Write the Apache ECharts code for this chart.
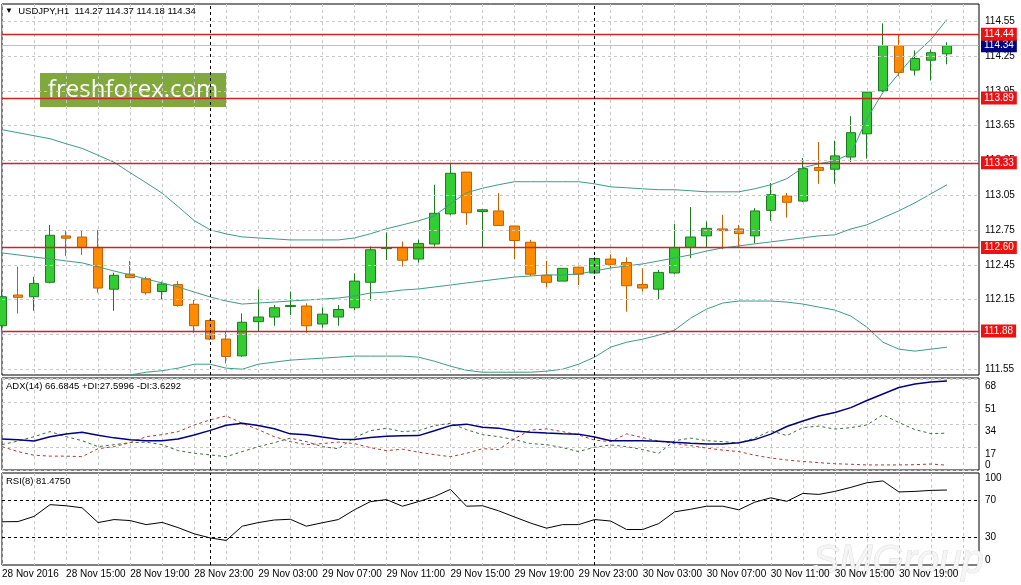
<!DOCTYPE html>
<html>
<head>
<meta charset="utf-8">
<title>USDJPY H1</title>
<script src="https://cdn.jsdelivr.net/npm/echarts@6/dist/echarts.min.js"></script>
<style>
html, body { margin: 0; padding: 0; background: #fff; }
#chart { width: 1021px; height: 585px; }
</style>
</head>
<body>
<div id="chart"></div>
<script>
// 每根K线 (28 Nov 11:00 起, 每小时一根)
var opens  = [111.925,112.19,112.175,112.30,112.70,112.69,112.60,112.24,112.37,112.33,
              112.22,112.28,112.11,111.97,111.81,111.665,111.96,112.00,112.09,112.095,
              111.94,112.00,112.08,112.30,112.59,112.60,112.50,112.63,112.89,113.25,
              112.91,112.915,112.785,112.645,112.36,112.31,112.43,112.38,112.50,112.47,
              112.28,112.24,112.38,112.60,112.70,112.76,112.76,112.70,112.92,113.045,
              113.00,113.29,113.275,113.38,113.58,113.95,114.34,114.13,114.215,114.27];
var highs  = [112.23,112.435,112.348,112.795,112.746,112.752,112.752,112.383,112.484,112.348,
              112.305,112.311,112.147,111.98,111.873,112.031,112.239,112.103,112.219,112.118,
              112.083,112.103,112.377,112.608,112.729,112.651,112.666,113.141,113.328,113.25,
              112.93,113.069,112.786,112.666,112.484,112.42,112.435,112.515,112.541,112.515,
              112.42,112.406,112.804,112.948,112.824,112.881,112.795,112.939,113.155,113.069,
              113.371,113.51,113.521,113.732,113.942,114.533,114.438,114.299,114.308,114.37];
var lows   = [111.89,112.03,112.054,112.29,112.527,112.536,112.21,112.054,112.34,112.193,
              112.152,112.089,111.864,111.80,111.599,111.657,111.873,111.925,112.017,111.864,
              111.907,111.925,112.06,112.141,112.492,112.435,112.47,112.608,112.878,112.795,
              112.60,112.789,112.498,112.354,112.256,112.31,112.276,112.371,112.42,112.046,
              112.219,112.152,112.371,112.507,112.602,112.585,112.60,112.636,112.83,112.858,
              112.991,113.149,113.149,113.337,113.366,113.942,114.077,114.083,114.04,114.18];
var closes = [112.175,112.17,112.29,112.705,112.68,112.60,112.25,112.36,112.34,112.21,
              112.285,112.10,111.925,111.81,111.66,111.955,112.00,112.08,112.10,111.925,
              112.025,112.065,112.31,112.58,112.60,112.49,112.635,112.895,113.24,112.90,
              112.925,112.79,112.66,112.37,112.30,112.42,112.37,112.505,112.455,112.27,
              112.25,112.385,112.60,112.69,112.765,112.745,112.72,112.915,113.055,112.99,
              113.28,113.265,113.39,113.59,113.94,114.34,114.11,114.23,114.28,114.34];

// 布林带
var upperBand  = [113.616,113.590,113.564,113.538,113.495,113.455,113.395,113.335,113.245,113.158,
                  113.068,112.952,112.832,112.752,112.717,112.691,112.682,112.674,112.665,112.665,
                  112.665,112.665,112.682,112.718,112.761,112.795,112.830,112.873,112.976,113.072,
                  113.111,113.141,113.167,113.167,113.167,113.167,113.167,113.149,113.123,113.115,
                  113.106,113.098,113.098,113.089,113.080,113.080,113.080,113.106,113.141,113.193,
                  113.288,113.322,113.348,113.409,113.711,113.936,114.100,114.265,114.394,114.567];
var middleBand = [112.553,112.536,112.518,112.501,112.484,112.467,112.432,112.397,112.363,112.328,
                  112.294,112.259,112.216,112.173,112.138,112.112,112.121,112.129,112.138,112.147,
                  112.155,112.164,112.181,112.207,112.216,112.233,112.242,112.259,112.276,112.294,
                  112.311,112.328,112.345,112.354,112.363,112.363,112.371,112.397,112.423,112.441,
                  112.458,112.484,112.510,112.536,112.570,112.596,112.613,112.631,112.648,112.665,
                  112.683,112.700,112.709,112.760,112.795,112.856,112.916,112.985,113.063,113.141];
var lowerBand  = [111.490,111.482,111.472,111.464,111.473,111.483,111.473,111.464,111.500,111.524,
                  111.537,111.559,111.593,111.593,111.559,111.550,111.593,111.611,111.628,111.637,
                  111.645,111.654,111.663,111.663,111.663,111.663,111.654,111.619,111.576,111.541,
                  111.524,111.524,111.524,111.524,111.533,111.550,111.593,111.654,111.740,111.783,
                  111.809,111.844,111.887,111.991,112.069,112.121,112.138,112.138,112.138,112.129,
                  112.112,112.086,112.060,112.008,111.913,111.783,111.723,111.706,111.723,111.740];

// ADX(14)
var adxLine = [23.2,22.7,21.8,25.0,27.0,28.3,26.0,24.1,22.6,22.0,
               22.0,23.2,26.2,29.7,33.5,35.0,33.3,30.9,27.1,26.5,
               24.7,23.0,22.8,24.3,25.4,25.6,25.8,29.5,33.3,34.4,
               32.0,31.4,29.2,28.4,27.7,27.2,26.9,24.8,22.0,22.0,
               22.0,21.6,20.8,20.1,19.5,19.5,20.5,22.8,26.9,32.6,
               36.7,40.5,43.1,46.8,52.1,57.0,61.9,64.5,66.0,66.7];
var plusDI  = [19.0,21.7,25.0,28.8,25.0,22.0,17.5,19.0,20.5,20.9,
               19.0,14.5,12.6,11.3,10.0,13.8,17.5,20.5,23.9,21.3,
               17.5,16.0,24.3,29.5,31.3,28.8,29.5,33.3,35.0,30.3,
               26.5,25.0,22.8,19.8,19.0,16.8,13.8,17.1,18.8,17.5,
               15.3,12.5,22.0,23.9,22.0,21.3,20.2,23.9,29.5,25.8,
               31.8,32.9,30.7,31.8,33.8,41.4,35.6,30.3,27.3,27.6];
var minusDI = [17.5,13.8,11.1,10.4,10.4,10.0,16.0,17.5,20.5,25.0,
               26.5,28.8,33.7,37.6,40.6,35.0,30.3,25.0,21.3,19.0,
               19.8,20.9,19.8,16.8,14.5,15.6,13.4,11.5,10.0,12.5,
               16.0,15.3,23.5,29.9,30.8,28.8,26.3,22.4,21.3,27.1,
               24.3,21.7,19.8,18.3,16.4,14.9,13.8,11.1,9.0,7.5,
               6.4,5.5,4.7,4.3,3.8,3.8,3.8,4.0,4.5,3.6];

// RSI(8)
var rsiLine = [47.0,47.2,52.8,65.6,64.4,62.2,46.1,49.4,48.3,43.9,
               46.3,40.6,33.9,29.4,26.7,42.2,46.1,48.9,49.7,42.2,
               45.9,49.4,60.0,68.9,71.1,63.9,68.9,74.4,82.2,63.9,
               64.4,58.9,52.2,45.6,40.0,43.9,43.9,49.4,47.8,38.6,
               38.6,45.0,57.8,60.6,63.9,63.9,60.0,68.3,73.0,69.2,
               77.8,76.7,80.0,84.4,89.4,91.4,79.4,80.0,81.1,81.5];

// 刻度与水平位
var priceTicks = ['111.55','111.85','112.15','112.45','112.75','113.05','113.35','113.65','113.95','114.25','114.55'];
var levelLines = [114.44, 113.89, 113.33, 112.60, 111.88];
var bidPrice = 114.34;
var adxTicks = [0, 17, 34, 51, 68];
var rsiTicks = [0, 30, 70, 100];
var rsiLevels = [70, 30];
var xLabels = ['28 Nov 2016','28 Nov 15:00','28 Nov 19:00','28 Nov 23:00','29 Nov 03:00','29 Nov 07:00',
               '29 Nov 11:00','29 Nov 15:00','29 Nov 19:00','29 Nov 23:00','30 Nov 03:00','30 Nov 07:00',
               '30 Nov 11:00','30 Nov 15:00','30 Nov 19:00'];
var daySeparators = ['29 Nov 00:00', '30 Nov 00:00'];

// 横轴类目: 60根K线 + 右侧2格空白
var categories = [];
for (var i = 0; i < 62; i++) {
    var h = 11 + i;
    var day = 28 + Math.floor(h / 24);
    var hh = h % 24;
    var dayText = day > 30 ? (day - 30) + ' Dec' : day + ' Nov';
    categories.push(dayText + ' ' + (hh < 10 ? '0' : '') + hh + ':00');
}

var candleData = [];
for (var k = 0; k < opens.length; k++) {
    candleData.push([opens[k], closes[k], lows[k], highs[k]]);
}

var FONT = '"Liberation Sans", Arial, sans-serif';

function gridLineStyle() {
    return { color: '#c8c8c8', type: [3, 3], width: 1 };
}
function sepStyle() {
    return { color: '#000', type: [3, 3], width: 1 };
}
function boxLabel(text, bg) {
    return {
        show: true, position: 'end', distance: 2, formatter: text,
        backgroundColor: bg, color: '#fff', fontSize: 10, fontFamily: FONT, padding: [2, 3, 1, 3]
    };
}

// 主图上的标记线: 网格 / 阻力支撑 / 卖价 / 日分隔
var mainMarks = [];
priceTicks.forEach(function (s) {
    mainMarks.push({ yAxis: parseFloat(s), lineStyle: gridLineStyle(), label: { show: false } });
});
mainMarks.push({
    yAxis: bidPrice,
    lineStyle: { color: '#c0c0c0', type: 'solid', width: 1 },
    label: boxLabel(bidPrice.toFixed(2), '#000080')
});
levelLines.forEach(function (v) {
    mainMarks.push({
        yAxis: v,
        lineStyle: { color: '#cc2424', type: 'solid', width: 1.3, opacity: 1 },
        label: boxLabel(v.toFixed(2), '#ee1111')
    });
});
function sepMarks() {
    return daySeparators.map(function (d) {
        return { xAxis: d, lineStyle: sepStyle(), label: { show: false } };
    });
}
mainMarks = mainMarks.concat(sepMarks());

var rsiMarks = rsiLevels.map(function (v) {
    return { yAxis: v, lineStyle: sepStyle(), label: { show: false } };
}).concat(sepMarks());

function makeXAxis(idx, showLabels) {
    return {
        type: 'category',
        gridIndex: idx,
        data: categories,
        boundaryGap: false,
        axisLine: { show: false },
        axisTick: { show: false },
        axisLabel: showLabels ? {
            show: true,
            interval: 3,
            align: 'left',
            margin: 4,
            fontSize: 10,
            fontFamily: FONT,
            color: '#000',
            formatter: function (value, index) {
                return xLabels[index / 4] || '';
            }
        } : { show: false },
        splitLine: { show: true, interval: 1, lineStyle: gridLineStyle() }
    };
}

function makeGrid(top, height) {
    return {
        left: 2, right: 42, top: top, height: height,
        show: true, borderColor: '#000', borderWidth: 1,
        containLabel: false, outerBoundsMode: 'none'
    };
}

var chart = echarts.init(document.getElementById('chart'));

var option = {
    animation: false,
    backgroundColor: '#fff',
    textStyle: { fontFamily: FONT },
    title: [
        {
            text: '{t|▼}  USDJPY,H1  114.27 114.37 114.18 114.34',
            left: 5, top: 6, padding: 0,
            textStyle: { fontSize: 9.5, fontWeight: 'normal', color: '#000', fontFamily: FONT,
                rich: { t: { fontSize: 8, color: '#000' } } }
        },
        {
            text: 'ADX(14) 66.6845 +DI:27.5996 -DI:3.6292',
            left: 6, top: 381, padding: 0,
            textStyle: { fontSize: 9.5, fontWeight: 'normal', color: '#000', fontFamily: FONT }
        },
        {
            text: 'RSI(8) 81.4750',
            left: 6, top: 476, padding: 0,
            textStyle: { fontSize: 9.5, fontWeight: 'normal', color: '#000', fontFamily: FONT }
        }
    ],
    graphic: [
        {
            type: 'group', left: 40, top: 73, z: 100,
            children: [
                { type: 'rect', shape: { x: 0, y: 0, width: 186, height: 34 }, style: { fill: '#80a83c' } },
                { type: 'text', x: 93, y: 17,
                  style: { text: 'freshforex.com', fill: '#fff', font: '24px "Open Sans", sans-serif',
                           align: 'center', verticalAlign: 'middle', textAlign: 'center', textVerticalAlign: 'middle' } }
            ]
        },
        {
            type: 'text', left: 812, top: 541, z: 0,
            style: { text: 'SMGroup', fill: '#f5f5f5', stroke: '#dddddd', lineWidth: 1,
                     font: 'italic 40px "Liberation Sans", sans-serif' }
        }
    ],
    grid: [makeGrid(4, 371), makeGrid(378, 92), makeGrid(473, 92)],
    xAxis: [makeXAxis(0, false), makeXAxis(1, false), makeXAxis(2, true)],
    yAxis: [
        {
            type: 'value', gridIndex: 0, position: 'right',
            min: 111.50, max: 114.70, interval: 0.05,
            axisLine: { show: false }, axisTick: { show: false }, splitLine: { show: false },
            axisLabel: {
                margin: 6, fontSize: 10, fontFamily: FONT, color: '#000',
                formatter: function (v) {
                    var s = v.toFixed(2);
                    return priceTicks.indexOf(s) >= 0 ? s : '';
                }
            }
        },
        {
            type: 'value', gridIndex: 1, position: 'right',
            min: 0, max: 69, interval: 17,
            axisLine: { show: false }, axisTick: { show: false },
            splitLine: { show: true, lineStyle: gridLineStyle() },
            axisLabel: {
                margin: 6, fontSize: 10, fontFamily: FONT, color: '#000',
                verticalAlign: 'top', verticalAlignMinLabel: 'bottom', padding: [2, 0, 0, 0],
                formatter: function (v) {
                    return adxTicks.indexOf(Math.round(v)) >= 0 && Math.abs(v - Math.round(v)) < 1e-6 ? String(Math.round(v)) : '';
                }
            }
        },
        {
            type: 'value', gridIndex: 2, position: 'right',
            min: 0, max: 100, interval: 10,
            axisLine: { show: false }, axisTick: { show: false }, splitLine: { show: false },
            axisLabel: {
                margin: 6, fontSize: 10, fontFamily: FONT, color: '#000',
                verticalAlignMaxLabel: 'top', verticalAlignMinLabel: 'bottom',
                formatter: function (v) {
                    return rsiTicks.indexOf(Math.round(v)) >= 0 ? String(Math.round(v)) : '';
                }
            }
        }
    ],
    series: [
        {
            name: 'USDJPY',
            type: 'candlestick',
            xAxisIndex: 0, yAxisIndex: 0,
            data: candleData,
            barWidth: 10,
            clip: true,
            itemStyle: {
                color: '#33cc33', borderColor: '#1f7a1f',
                color0: '#ff8c00', borderColor0: '#c06000',
                borderWidth: 1
            },
            z: 3
        },
        {
            name: 'BB upper', type: 'line', xAxisIndex: 0, yAxisIndex: 0,
            data: upperBand, showSymbol: false, symbol: 'none', clip: true,
            lineStyle: { color: '#3f9a88', width: 1 }, z: 4
        },
        {
            name: 'BB middle', type: 'line', xAxisIndex: 0, yAxisIndex: 0,
            data: middleBand, showSymbol: false, symbol: 'none', clip: false,
            lineStyle: { color: '#3f9a88', width: 1 }, z: 4,
            markLine: { silent: true, symbol: ['none', 'none'], animation: false, data: mainMarks }
        },
        {
            name: 'BB lower', type: 'line', xAxisIndex: 0, yAxisIndex: 0,
            data: lowerBand, showSymbol: false, symbol: 'none', clip: true,
            lineStyle: { color: '#3f9a88', width: 1 }, z: 4
        },
        {
            name: 'ADX', type: 'line', xAxisIndex: 1, yAxisIndex: 1,
            data: adxLine, showSymbol: false, symbol: 'none',
            lineStyle: { color: '#000080', width: 1.5 }, z: 4,
            markLine: { silent: true, symbol: ['none', 'none'], animation: false, data: sepMarks() }
        },
        {
            name: '+DI', type: 'line', xAxisIndex: 1, yAxisIndex: 1,
            data: plusDI, showSymbol: false, symbol: 'none',
            lineStyle: { color: '#3b6e3b', width: 1, type: [3, 3] }, z: 3
        },
        {
            name: '-DI', type: 'line', xAxisIndex: 1, yAxisIndex: 1,
            data: minusDI, showSymbol: false, symbol: 'none',
            lineStyle: { color: '#b03a2e', width: 1, type: [3, 3] }, z: 3
        },
        {
            name: 'RSI', type: 'line', xAxisIndex: 2, yAxisIndex: 2,
            data: rsiLine, showSymbol: false, symbol: 'none',
            lineStyle: { color: '#000', width: 1 }, z: 4,
            markLine: { silent: true, symbol: ['none', 'none'], animation: false, data: rsiMarks }
        }
    ]
};

chart.setOption(option);
</script>
</body>
</html>
